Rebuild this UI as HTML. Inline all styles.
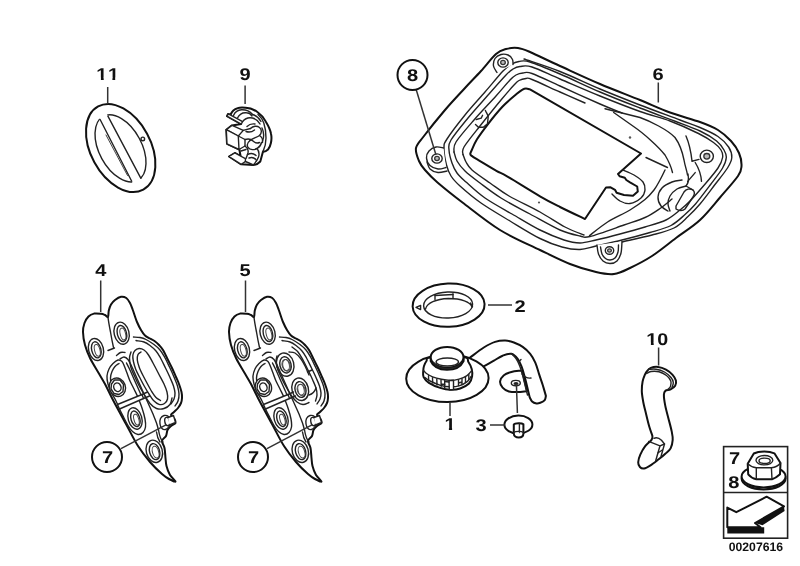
<!DOCTYPE html>
<html>
<head>
<meta charset="utf-8">
<title>Parts diagram 00207616</title>
<style>
html,body{margin:0;padding:0;background:#fff;}
body{width:800px;height:566px;overflow:hidden;font-family:"Liberation Sans",sans-serif;}
svg{display:block;}
.lbl{font-family:"Liberation Sans",sans-serif;font-weight:bold;font-size:17px;fill:#111;}
text{text-rendering:geometricPrecision;}
svg{filter:grayscale(1);}
.o{fill:none;stroke:#111;stroke-width:2;stroke-linejoin:round;stroke-linecap:round;}
.ow{fill:#fff;stroke:#111;stroke-width:2;stroke-linejoin:round;stroke-linecap:round;}
.m{fill:none;stroke:#222;stroke-width:1.4;stroke-linejoin:round;stroke-linecap:round;}
.mw{fill:#fff;stroke:#222;stroke-width:1.4;stroke-linejoin:round;stroke-linecap:round;}
.t{fill:none;stroke:#444;stroke-width:1;stroke-linejoin:round;stroke-linecap:round;}
.tw{fill:#fff;stroke:#444;stroke-width:1;stroke-linejoin:round;stroke-linecap:round;}
.ld{fill:none;stroke:#333;stroke-width:1.5;}
</style>
</head>
<body>
<svg width="800" height="566" viewBox="0 0 800 566">
<rect x="0" y="0" width="800" height="566" fill="#ffffff"/>


<!-- ================= PART 11 : ring ================= -->
<g id="p11">
  <ellipse class="ow" cx="120.7" cy="148" rx="47.3" ry="30" transform="rotate(61.5 120.7 148)" stroke-width="2.5"/>
  <ellipse class="m" cx="120.5" cy="148.4" rx="36.3" ry="21.3" transform="rotate(61.5 120.5 148.4)" stroke-width="1.9"/>
  <polygon points="98.5,116.4 106.5,113.2 142.6,181.4 133.3,184.4" fill="#fff" stroke="none"/>
  <line class="m" x1="100.1" y1="119.5" x2="131.7" y2="181.3" stroke-width="1.9"/>
  <line class="m" x1="107.9" y1="116.2" x2="140.9" y2="178.3" stroke-width="1.9"/>
  <line class="t" x1="106" y1="135" x2="127.5" y2="175.5" stroke-width="0.8"/>
  <circle class="m" cx="142.8" cy="138.9" r="1.8" stroke-width="1.1"/>
</g>

<!-- ================= PART 9 : clip ================= -->
<g id="p9">
  <!-- back disc crescent -->
  <path class="ow" stroke-width="1.9" d="M230.6,114.8 C232,111 235,108.8 237.6,108.2 C240,107.2 243,107.3 245.4,107.7 C250,107.6 254,109.5 257.4,112 C261,114.5 264,118 266,121.9 C268.5,126 270.3,130 270.9,133.2 C271.8,137 271.6,140 270.9,143 C270.3,146 269.3,148 268,149.5 C266.5,151 265,151.8 263,151.6 L260.3,161.5 C258,164 256,165 253.2,165 L245.4,164.6 L241.2,164.3 L229,156.5 L234.8,153 L240.6,156.2 L239.4,149.7 L227,143.8 L226.3,129.7 L232,125.4 L241.2,124 L227,116.2 L228,114 Z"/>
  <path class="m" stroke-width="1.5" d="M258,114.5 C261,117 262.8,120 263.8,123 C265.5,128 266,133 266,138 C266,143 265,147.5 263,151.6"/>
  <!-- top strip -->
  <path class="mw" stroke-width="1.7" d="M227,116.2 L228.4,113.8 L242.6,121.6 L241.2,124 Z"/>
  <!-- arcs behind strip -->
  <path class="m" stroke-width="1.45" d="M233.5,115.5 C235,112 238,110 241.5,109.8 C246,109.6 250,111.5 252.5,114.5"/>
  <path class="m" stroke-width="1.45" d="M237.5,118 C239.5,114 243,112.4 246.5,112.8 C249,113 251,114.5 252,116"/>
  <path class="m" stroke-width="1.45" d="M242.6,121.6 C245,118.5 249,117.2 252.5,118 C256,119 258.5,121 260,124"/>
  <path class="m" stroke-width="1.45" d="M252.5,114.5 C256,115.5 259,118 261,121.5"/>
  <!-- block -->
  <path class="mw" stroke-width="1.6" d="M226.3,129.7 L232,125.4 L243.3,130.4 L238.3,136 Z"/>
  <path class="mw" stroke-width="1.6" d="M226.3,129.7 L238.3,136 L239,149.5 L227,143.8 Z"/>
  <path class="m" stroke-width="1.3" d="M243.3,130.4 L250.5,128.5 M238.3,136 L245,139.5 L245,146 L239,149.5"/>
  <!-- inner squiggles -->
  <path class="m" stroke-width="1.45" d="M250.5,128.500 C253,126 257,125.500 259.500,127.500 C262,129.500 262,133 259.500,135.500 C257,137.500 253,138 250,140.500"/>
  <path class="m" stroke-width="1.45" d="M245,139.500 C248,138.500 251,139 253,141 C255,143 257,143.500 259.500,142.500"/>
  <path class="m" stroke-width="1.45" d="M250,140.500 C247.500,142.500 246.500,145 248,147.500 C250,150 254,150 257,148.500 C259.500,147 261,145 261.500,142.500"/>
  <path class="m" stroke-width="1.45" d="M245,146 C248,148.500 249,151.500 247.500,154.500 L246,158.600"/>
  <path class="m" stroke-width="1.45" d="M257,148.500 C259,151 259.500,154 258.500,157 C257.500,160 255.500,162.500 253.200,165"/>
  <path class="m" stroke-width="1.45" d="M247.500,154.500 C250.500,153 254,153.500 256,155.500"/>
  <path class="m" stroke-width="1.45" d="M259.500,135.500 C262,137 263,139.500 262.500,142.500"/>
  <path class="m" stroke-width="1.3" d="M246,131.500 C249,132.500 252,132 254.500,130 M247,126.500 C249,124.500 252,123.500 255,124 M262,128 C264,132 264,137 262.500,141 M249,158 C252,157 255,158 256.500,160.500 M241,151 L246,149.500"/>
  <!-- bottom tab -->
  <path class="mw" stroke-width="1.7" d="M229,156.5 L234.8,153 L245.4,158.6 L245.4,161.5 L241.2,164.3 Z"/>
  <path class="m" stroke-width="1.45" d="M245.4,161.500 L249,163 L253.200,165"/>
</g>


<!-- ================= PART 6 : panel ================= -->
<g id="p6">
<path class="ow" stroke-width="2.2" d="M416.0,148.0 C416.8,143.8 419.2,142.3 424.0,136.0 C428.8,129.7 438.2,118.0 445.0,110.0 C451.8,102.0 459.0,94.5 465.0,88.0 C471.0,81.5 475.8,76.7 481.0,71.0 C486.2,65.3 491.8,57.7 496.0,54.0 C500.2,50.3 502.3,50.0 506.0,49.0 C509.7,48.0 514.0,47.5 518.0,48.0 C522.0,48.5 523.0,49.0 530.0,52.0 C537.0,55.0 548.3,60.7 560.0,66.0 C571.7,71.3 586.7,78.3 600.0,84.0 C613.3,89.7 628.3,95.2 640.0,100.0 C651.7,104.8 660.0,108.8 670.0,112.5 C680.0,116.2 692.0,119.1 700.0,122.0 C708.0,124.9 712.8,126.8 718.0,130.0 C723.2,133.2 727.5,137.2 731.0,141.0 C734.5,144.8 737.2,148.8 739.0,153.0 C740.8,157.2 741.7,162.2 741.5,166.0 C741.3,169.8 741.6,170.8 738.0,176.0 C734.4,181.2 726.3,190.2 720.0,197.5 C713.7,204.8 707.3,213.2 700.0,220.0 C692.7,226.8 684.0,232.0 676.0,238.0 C668.0,244.0 659.7,251.0 652.0,256.0 C644.3,261.0 636.3,265.0 630.0,268.0 C623.7,271.0 619.7,273.3 614.0,274.0 C608.3,274.7 603.3,273.7 596.0,272.0 C588.7,270.3 579.3,267.7 570.0,264.0 C560.7,260.3 551.7,255.7 540.0,250.0 C528.3,244.3 512.9,237.9 500.0,230.0 C487.1,222.1 472.9,210.4 462.5,202.5 C452.1,194.6 443.8,187.9 437.5,182.5 C431.2,177.1 428.1,173.6 425.0,170.0 C421.9,166.4 420.5,164.7 419.0,161.0 C417.5,157.3 415.2,152.2 416.0,148.0 Z"/>
<path class="m" stroke-width="1.1" d="M524.0,59.0 C530.0,61.1 547.3,66.5 560.0,71.5 C572.7,76.5 586.7,83.4 600.0,89.0 C613.3,94.6 626.7,99.8 640.0,105.0 C653.3,110.2 670.0,116.2 680.0,120.0 C690.0,123.8 693.7,124.8 700.0,127.5 C706.3,130.2 713.2,133.2 718.0,136.5 C722.8,139.8 726.3,143.5 728.6,147.0 C730.9,150.5 732.0,154.0 731.8,157.5 C731.6,161.0 730.3,163.5 727.5,168.0 C724.7,172.5 719.6,178.5 715.0,184.5 C710.4,190.5 704.5,198.7 700.0,204.0 C695.5,209.3 692.3,212.5 688.0,216.5 C683.7,220.5 680.0,224.9 674.0,228.0 C668.0,231.1 660.7,232.7 652.0,235.0 C643.3,237.3 627.0,240.8 622.0,242.0"/>
<path class="m" stroke-width="2" d="M444.0,148.0 C444.1,143.7 443.5,144.5 447.0,139.0 C450.5,133.5 458.7,122.8 465.0,115.0 C471.3,107.2 478.7,99.3 485.0,92.0 C491.3,84.7 498.7,75.6 503.0,71.0 C507.3,66.4 508.3,66.1 511.0,64.5 C513.7,62.9 515.8,61.9 519.0,61.5 C522.2,61.1 523.2,59.9 530.0,62.0 C536.8,64.1 548.3,69.0 560.0,74.0 C571.7,79.0 586.7,86.3 600.0,92.0 C613.3,97.7 627.6,103.2 640.0,108.0 C652.4,112.8 664.5,117.2 674.5,121.0 C684.5,124.8 693.0,127.7 700.0,131.0 C707.0,134.3 712.6,137.8 716.6,141.0 C720.6,144.2 722.4,147.2 724.0,150.0 C725.6,152.8 726.5,154.5 726.3,157.5 C726.1,160.5 725.2,163.5 722.6,168.0 C720.0,172.5 715.1,178.5 710.6,184.5 C706.1,190.5 699.8,199.0 695.5,204.0 C691.2,209.0 689.1,210.9 685.0,214.5 C680.9,218.1 676.8,222.5 671.0,225.5 C665.2,228.5 658.2,230.1 650.0,232.5 C641.8,234.9 631.0,237.8 622.0,240.0 C613.0,242.2 603.0,244.4 596.0,246.0 C589.0,247.6 585.7,249.3 580.0,249.5 C574.3,249.7 568.7,248.8 562.0,247.0 C555.3,245.2 548.7,242.8 540.0,238.5 C531.3,234.2 519.8,226.9 510.0,221.0 C500.2,215.1 489.3,208.8 481.0,203.0 C472.7,197.2 465.0,190.5 460.0,186.0 C455.0,181.5 453.2,179.5 451.0,176.0 C448.8,172.5 447.7,169.7 446.5,165.0 C445.3,160.3 443.9,152.3 444.0,148.0 Z"/>
<path class="m" stroke-width="1.2" d="M449.0,150.0 C448.8,146.2 447.8,145.3 451.0,140.0 C454.2,134.7 461.7,125.7 468.0,118.0 C474.3,110.3 482.7,101.2 489.0,94.0 C495.3,86.8 502.0,79.2 506.0,75.0 C510.0,70.8 510.7,70.4 513.0,69.0 C515.3,67.6 516.8,66.8 520.0,66.5 C523.2,66.2 525.3,64.9 532.0,67.0 C538.7,69.1 548.7,74.2 560.0,79.0 C571.3,83.8 586.7,90.6 600.0,96.0 C613.3,101.4 628.3,107.3 640.0,111.5 C651.7,115.7 660.2,117.3 670.0,121.0 C679.8,124.7 691.2,129.9 698.5,133.5 C705.8,137.1 709.8,139.8 713.5,142.5 C717.2,145.2 719.5,147.5 721.0,150.0 C722.5,152.5 723.1,154.5 722.6,157.5 C722.1,160.5 720.8,163.8 718.0,168.0 C715.2,172.2 710.7,177.5 706.0,183.0 C701.3,188.5 694.3,196.5 690.0,201.0 C685.7,205.5 684.0,206.8 680.0,210.0 C676.0,213.2 671.8,217.2 666.0,220.0 C660.2,222.8 652.7,224.7 645.0,227.0 C637.3,229.3 628.2,231.8 620.0,234.0 C611.8,236.2 602.7,238.5 596.0,240.0 C589.3,241.5 585.3,243.0 580.0,243.0 C574.7,243.0 570.7,242.2 564.0,240.0 C557.3,237.8 548.7,234.3 540.0,230.0 C531.3,225.7 521.2,219.3 512.0,214.0 C502.8,208.7 492.7,203.3 485.0,198.0 C477.3,192.7 470.7,186.2 466.0,182.0 C461.3,177.8 459.3,176.2 457.0,173.0 C454.7,169.8 453.3,166.8 452.0,163.0 C450.7,159.2 449.2,153.8 449.0,150.0 Z"/>
<path class="m" stroke-width="1.1" d="M454.0,152.0 C454.3,150.3 452.7,147.3 456.0,142.0 C459.3,136.7 467.3,127.7 474.0,120.0 C480.7,112.3 490.0,102.7 496.0,96.0 C502.0,89.3 506.7,83.5 510.0,80.0 C513.3,76.5 513.8,76.2 516.0,75.0 C518.2,73.8 520.3,73.2 523.0,73.0 C525.7,72.8 525.8,71.3 532.0,73.5 C538.2,75.7 548.7,80.9 560.0,86.0 C571.3,91.1 589.7,99.5 600.0,104.0 C610.3,108.5 618.3,111.5 622.0,113.0"/>
<path class="m" stroke-width="1.1" d="M463.0,154.5 C463.2,153.2 461.2,151.8 464.0,147.0 C466.8,142.2 473.8,133.8 480.0,126.0 C486.2,118.2 495.3,106.8 501.0,100.0 C506.7,93.2 511.0,88.2 514.0,85.0 C517.0,81.8 517.0,81.6 519.0,80.5 C521.0,79.4 523.8,78.7 526.0,78.5 C528.2,78.3 526.3,77.2 532.0,79.5 C537.7,81.8 551.2,88.1 560.0,92.0 C568.8,95.9 580.8,101.2 585.0,103.0"/>
<path class="m" stroke-width="1.1" d="M454.0,152.0 C454.5,153.5 455.2,157.8 457.0,161.0 C458.8,164.2 461.2,167.3 465.0,171.0 C468.8,174.7 474.0,178.5 480.0,183.0 C486.0,187.5 492.7,192.8 501.0,198.0 C509.3,203.2 520.2,208.7 530.0,214.0 C539.8,219.3 551.7,226.3 560.0,230.0 C568.3,233.7 575.0,234.9 580.0,236.0 C585.0,237.1 582.7,238.3 590.0,236.5 C597.3,234.7 614.8,228.2 624.0,225.0 C633.2,221.8 639.0,220.2 645.0,217.5 C651.0,214.8 655.5,211.6 660.0,208.5 C664.5,205.4 670.0,200.6 672.0,199.0"/>
<path class="m" stroke-width="1.1" d="M463.0,154.5 C463.5,155.8 464.5,159.4 466.0,162.0 C467.5,164.6 468.0,166.5 472.0,170.0 C476.0,173.5 483.8,178.7 490.0,183.0 C496.2,187.3 500.7,191.2 509.0,196.0 C517.3,200.8 530.7,206.8 540.0,212.0 C549.3,217.2 557.7,223.2 565.0,227.0 C572.3,230.8 580.8,233.7 584.0,235.0"/>
<path class="ow" stroke-width="2.1" d="M530,89.400 L641.0,153.5 L618.0,174.0 L619.6,176.3 L624.8,177.8 L626.3,180.0 L630.0,182.3 L637.2,186.5 L637.8,191.5 L633.0,195.8 L624.0,195.0 L616.6,192.8 L615.0,189.8 L610.6,187.3 L606.0,187.5 L585.0,219.0 L585.0,219.0 C580.8,217.0 567.5,210.8 560.0,207.0 C552.5,203.2 548.8,201.4 540.0,196.3 C531.2,191.2 514.8,180.8 507.5,176.6 C500.2,172.3 501.3,173.6 496.4,170.8 C491.5,168.0 482.2,162.3 478.0,159.8 C473.8,157.3 472.6,156.6 471.3,155.6 C470.0,154.6 470.2,154.4 470.3,153.6 C470.4,152.8 470.5,152.9 471.6,150.5 C472.7,148.1 474.2,143.8 477.0,139.3 C479.8,134.9 484.0,129.2 488.2,123.8 C492.4,118.4 497.7,111.8 502.4,106.8 C507.1,101.8 513.1,97.0 516.5,94.1 C519.9,91.2 520.9,90.5 522.5,89.6 C524.1,88.6 524.8,88.4 526.0,88.4 C527.2,88.4 529.3,89.2 530.0,89.4 Z"/>
<path class="m" stroke-width="1.1" d="M623.0,170.0 C624.8,170.8 630.7,173.0 634.0,175.0 C637.3,177.0 641.2,179.5 643.0,182.0 C644.8,184.5 645.3,187.3 645.0,190.0 C644.7,192.7 643.5,195.8 641.0,198.0 C638.5,200.2 633.5,203.0 630.0,203.5 C626.5,204.0 623.0,202.6 620.0,201.0 C617.0,199.4 613.3,195.2 612.0,194.0"/>
<path class="m" stroke-width="1" d="M605,108.700 L640,117.500 C650,121 668,130 675,137.500 C679,143 682,150 684,160 C685,166 687,171 687.500,175 M613.700,112.500 L635,127.500 C643,133 658,146 665,155 C668,160 671,166 672.500,172.500 M646,157.500 L667.500,167.500"/>
<path class="m" stroke-width="1" d="M589.5,235.6 C592.5,233.3 600.9,226.3 607.6,222.0 C614.4,217.7 623.8,213.8 630.0,210.0 C636.2,206.2 641.0,202.8 645.0,199.5 C649.0,196.2 651.5,193.2 654.0,190.0 C656.5,186.8 658.2,183.3 660.0,180.0 C661.8,176.7 664.2,171.7 665.0,170.0"/>
<path class="m" stroke-width="1" d="M686,136 C689,143 691,152 692,161 M692,161.300 L699,159.400 M695.200,162.500 C698,167 701,174 701.500,181.400 M695.200,172.600 L687.700,181.400"/>
<path class="m" stroke-width="1.2" d="M682.0,180.0 C680.3,180.3 675.3,180.7 672.0,182.0 C668.7,183.3 664.3,185.5 662.0,188.0 C659.7,190.5 658.2,194.0 658.0,197.0 C657.8,200.0 659.3,203.7 661.0,206.0 C662.7,208.3 666.8,210.2 668.0,211.0"/>
<path class="m" stroke-width="1.2" d="M686.0,186.0 C684.5,186.5 679.7,187.3 677.0,189.0 C674.3,190.7 671.5,193.5 670.0,196.0 C668.5,198.5 668.0,201.5 668.0,204.0 C668.0,206.5 669.7,209.8 670.0,211.0"/>
<path class="m" stroke-width="1.2" d="M676,206 L684,192 C686,189 690,188 693,190 C695,192 695,194 693,197 L685,209 C683,211 679,211 676,209 Z"/>
<path class="m" stroke-width="1.2" d="M688,174 C689,180 688,184 686,186 L693,190"/>
<path class="mw" stroke-width="1.4" d="M497.0,72.5 C496.4,71.4 493.8,68.3 493.5,66.0 C493.2,63.7 493.8,60.4 495.0,58.5 C496.2,56.6 498.8,55.1 501.0,54.5 C503.2,53.9 506.1,54.2 508.0,55.0 C509.9,55.8 511.7,57.9 512.5,59.5 C513.3,61.1 512.9,63.7 513.0,64.5"/>
<ellipse class="mw" stroke-width="1.3" cx="503.0" cy="62.5" rx="5.2" ry="4.6"/><ellipse cx="503.0" cy="62.5" rx="2.3" ry="2.1" fill="#bbb" stroke="#333" stroke-width="1.3"/>
<path class="mw" stroke-width="1.4" d="M443.5,148.0 C442.2,147.8 438.4,146.5 436.0,147.0 C433.6,147.5 430.6,149.2 429.0,151.0 C427.4,152.8 426.3,155.6 426.5,158.0 C426.7,160.4 428.1,163.7 430.0,165.5 C431.9,167.3 435.3,168.7 438.0,169.0 C440.7,169.3 444.7,167.8 446.0,167.5"/>
<path class="m" stroke-width="1" d="M427.0,162.0 C427.5,163.2 428.2,167.2 430.0,169.0 C431.8,170.8 435.2,172.2 438.0,172.5 C440.8,172.8 445.5,171.2 447.0,171.0"/>
<ellipse class="mw" stroke-width="1.3" cx="437.0" cy="158.5" rx="5.2" ry="4.6"/><ellipse cx="437.0" cy="158.5" rx="2.3" ry="2.1" fill="#bbb" stroke="#333" stroke-width="1.3"/>
<ellipse class="mw" stroke-width="1.3" cx="706.8" cy="156.3" rx="6.6" ry="6.2"/><ellipse cx="706.8" cy="156.3" rx="3.0" ry="2.8" fill="#bbb" stroke="#333" stroke-width="1.3"/>
<path class="mw" stroke-width="1.4" d="M597.0,245.0 C597.2,246.5 597.5,251.3 598.5,254.0 C599.5,256.7 601.1,259.4 603.0,261.0 C604.9,262.6 607.7,263.5 610.0,263.5 C612.3,263.5 615.2,262.8 617.0,261.0 C618.8,259.2 620.2,256.2 621.0,253.0 C621.8,249.8 621.8,243.4 622.0,241.5"/>
<path class="m" stroke-width="1" d="M600.5,247.0 C600.8,248.2 601.2,252.1 602.0,254.0 C602.8,255.9 604.2,257.5 605.5,258.5 C606.8,259.5 608.4,260.1 610.0,260.0 C611.6,259.9 613.7,259.3 615.0,258.0 C616.3,256.7 617.4,254.2 618.0,252.0 C618.6,249.8 618.4,246.2 618.5,245.0"/>
<ellipse class="mw" stroke-width="1.3" cx="609.5" cy="250.5" rx="4.2" ry="3.8"/><ellipse cx="609.5" cy="250.5" rx="1.9" ry="1.7" fill="#bbb" stroke="#333" stroke-width="1.3"/>
<path class="m" stroke-width="1.4" d="M485.400,110.400 C486.500,113 488,115 488.200,116.700 L487.500,123.800 L483.300,127.300 L478.400,127.300 L475.500,124.500 M476.200,119.500 L481.200,118.100 L482.600,115.300"/>
<circle cx="630" cy="137.5" r="1.2" fill="#555"/><circle cx="539" cy="202.5" r="1.1" fill="#555"/>
</g>
<!-- ================= PARTS 4 & 5 : brackets ================= -->
<g id="p4" transform="translate(0,0)">
<path class="ow" stroke-width="2.1" d="M108.0,317.0 C108.6,316.2 108.3,312.6 108.8,310.5 C109.3,308.4 110.0,306.2 111.0,304.5 C112.0,302.8 113.3,301.3 115.0,300.0 C116.7,298.7 119.1,297.1 121.0,296.8 C122.9,296.5 124.8,297.0 126.3,298.0 C127.8,299.0 128.9,301.0 130.0,303.0 C131.1,305.0 131.6,306.8 132.8,310.0 C134.0,313.2 135.6,318.7 137.0,322.0 C138.4,325.3 139.7,327.8 141.0,330.0 C142.3,332.2 143.5,334.1 145.0,335.5 C146.5,336.9 148.4,337.6 150.0,338.5 C151.6,339.4 153.0,339.9 154.5,341.0 C156.0,342.1 157.6,343.5 159.0,345.0 C160.4,346.5 161.5,347.5 163.0,350.0 C164.5,352.5 166.5,357.0 168.0,360.0 C169.5,363.0 170.7,365.2 172.0,368.0 C173.3,370.8 174.8,374.3 176.0,377.0 C177.2,379.7 178.1,381.5 179.0,384.0 C179.9,386.5 181.0,389.7 181.5,392.0 C182.0,394.3 182.1,396.2 182.0,398.0 C181.9,399.8 181.7,401.3 181.0,403.0 C180.3,404.7 179.2,406.5 178.0,408.0 C176.8,409.5 175.2,410.8 174.0,412.0 C172.8,413.2 170.9,413.8 171.0,415.0 C171.1,416.2 173.8,417.7 174.5,419.0 C175.2,420.3 176.1,421.8 175.5,423.0 C174.9,424.2 172.3,424.8 171.0,426.0 C169.7,427.2 168.3,428.3 167.5,430.0 C166.7,431.7 166.9,434.2 166.0,436.0 C165.1,437.8 162.2,439.0 162.0,441.0 C161.8,443.0 163.9,445.2 164.5,448.0 C165.1,450.8 165.2,455.0 165.5,458.0 C165.8,461.0 165.8,463.2 166.5,466.0 C167.2,468.8 168.5,472.4 170.0,475.0 C171.5,477.6 175.7,480.8 175.5,481.5 C175.3,482.2 171.2,480.2 169.0,479.0 C166.8,477.8 165.2,476.8 162.0,474.0 C158.8,471.2 154.0,466.7 150.0,462.0 C146.0,457.3 142.0,452.3 138.0,446.0 C134.0,439.7 130.2,431.7 126.0,424.0 C121.8,416.3 116.5,406.7 113.0,400.0 C109.5,393.3 107.5,388.7 105.0,384.0 C102.5,379.3 100.5,376.3 98.0,372.0 C95.5,367.7 92.2,362.5 90.0,358.0 C87.8,353.5 86.2,349.3 85.0,345.0 C83.8,340.7 83.1,335.7 83.0,332.0 C82.9,328.3 83.6,325.6 84.5,323.0 C85.4,320.4 86.9,318.1 88.5,316.5 C90.1,314.9 91.9,314.1 94.0,313.6 C96.1,313.2 99.2,313.6 101.0,313.8 C102.8,314.0 103.8,314.5 105.0,315.0 C106.2,315.5 107.4,317.8 108.0,317.0 Z"/>
<path class="m" stroke-width="1.6" d="M108,317 C108.500,322 109.500,327 110.500,332 C111.500,338 112.500,343 113.500,347.500 M108,350.500 L114.500,348"/>
<path class="m" stroke-width="1.5" d="M133.5,337.0 C134.6,337.1 137.9,337.1 140.0,337.5 C142.1,337.9 143.7,338.3 146.0,339.5 C148.3,340.7 151.7,342.8 154.0,344.5 C156.3,346.2 158.2,347.9 160.0,350.0 C161.8,352.1 162.9,354.2 164.5,357.0 C166.1,359.8 167.9,363.7 169.5,367.0 C171.1,370.3 172.7,373.8 174.0,377.0 C175.3,380.2 176.7,383.2 177.5,386.0 C178.3,388.8 178.9,391.5 179.0,394.0 C179.1,396.5 178.7,399.0 178.0,401.0 C177.3,403.0 175.5,405.2 175.0,406.0"/>
<path class="m" stroke-width="1.1" d="M136.0,340.5 C137.3,340.8 141.7,341.2 144.0,342.0 C146.3,342.8 148.0,344.0 150.0,345.5 C152.0,347.0 154.2,348.9 156.0,351.0 C157.8,353.1 158.9,355.2 160.5,358.0 C162.1,360.8 163.9,364.8 165.5,368.0 C167.1,371.2 168.7,374.5 170.0,377.5 C171.3,380.5 172.7,383.4 173.5,386.0 C174.3,388.6 174.9,390.8 175.0,393.0 C175.1,395.2 174.7,397.2 174.0,399.0 C173.3,400.8 171.5,403.2 171.0,404.0"/>
<ellipse class="mw" stroke-width="2.0" cx="96.0" cy="349.5" rx="7.4" ry="11.2" transform="rotate(-14.0 96.0 349.5)" /><ellipse class="m" stroke-width="2.0" cx="96.3" cy="349.8" rx="4.6" ry="8.2" transform="rotate(-14.0 96.3 349.8)" /><ellipse class="t" stroke-width="0.7" cx="97.3" cy="350.3" rx="2.7" ry="6.0" transform="rotate(-14.0 97.3 350.3)" />
<ellipse class="mw" stroke-width="2.0" cx="121.6" cy="333.2" rx="7.4" ry="11.2" transform="rotate(-14.0 121.6 333.2)" /><ellipse class="m" stroke-width="2.0" cx="121.9" cy="333.5" rx="4.6" ry="8.2" transform="rotate(-14.0 121.9 333.5)" /><ellipse class="t" stroke-width="0.7" cx="122.9" cy="334.0" rx="2.7" ry="6.0" transform="rotate(-14.0 122.9 334.0)" />
<ellipse class="mw" stroke-width="2.0" cx="154.3" cy="451.3" rx="8.0" ry="11.4" transform="rotate(-16.0 154.3 451.3)" /><ellipse class="m" stroke-width="2.0" cx="154.6" cy="451.6" rx="5.0" ry="8.2" transform="rotate(-16.0 154.6 451.6)" /><ellipse class="t" stroke-width="0.7" cx="155.6" cy="452.1" rx="3.1" ry="6.0" transform="rotate(-16.0 155.6 452.1)" />
<path class="mw" stroke-width="1.9" d="M139.0,348.5 C137.5,348.6 136.0,349.4 135.0,350.5 C134.0,351.6 133.2,353.2 132.9,355.0 C132.6,356.8 132.9,358.7 133.3,361.0 C133.8,363.3 134.6,366.3 135.6,369.0 C136.6,371.7 138.1,374.2 139.5,377.0 C140.9,379.8 142.6,383.2 144.2,386.0 C145.8,388.8 147.4,391.6 149.0,394.0 C150.6,396.4 151.8,398.8 153.5,400.5 C155.2,402.2 157.2,403.8 159.0,404.3 C160.8,404.8 163.1,404.4 164.5,403.5 C165.9,402.6 167.1,400.9 167.5,399.0 C167.9,397.1 167.6,394.5 167.0,392.0 C166.4,389.5 165.4,387.1 164.0,384.0 C162.6,380.9 160.3,377.0 158.5,373.5 C156.7,370.0 154.7,366.1 153.0,363.0 C151.3,359.9 150.0,357.2 148.5,355.0 C147.0,352.8 145.6,351.1 144.0,350.0 C142.4,348.9 140.5,348.4 139.0,348.5 Z"/>
<path class="m" stroke-width="1" d="M141.0,352.0 C140.5,352.4 138.6,353.2 138.0,354.5 C137.4,355.8 137.1,357.8 137.3,360.0 C137.5,362.2 138.4,364.9 139.3,367.5 C140.2,370.1 141.6,372.8 143.0,375.5 C144.4,378.2 146.0,381.2 147.5,384.0 C149.0,386.8 150.6,389.8 152.0,392.0 C153.4,394.2 154.6,396.1 156.0,397.5 C157.4,398.9 159.8,400.0 160.5,400.5"/>
<path class="m" stroke-width="1.1" d="M131.0,352.0 C130.8,353.0 129.5,355.5 129.5,358.0 C129.5,360.5 130.0,364.0 130.8,367.0 C131.6,370.0 133.1,372.9 134.5,376.0 C135.9,379.1 137.3,382.3 139.0,385.5 C140.7,388.7 142.7,392.0 144.5,395.0 C146.3,398.0 148.0,401.2 150.0,403.5 C152.0,405.8 154.2,407.7 156.5,408.5 C158.8,409.3 161.8,409.2 164.0,408.5 C166.2,407.8 168.7,406.2 170.0,404.5 C171.3,402.8 171.7,399.1 172.0,398.0"/>
<path class="mw" stroke-width="2.2" d="M118.0,360.0 C116.5,360.3 114.5,362.0 113.0,363.5 C111.5,365.0 110.0,366.9 109.0,369.0 C108.0,371.1 107.2,373.5 107.0,376.0 C106.8,378.5 107.3,381.3 108.0,384.0 C108.7,386.7 109.7,389.2 111.0,392.0 C112.3,394.8 114.5,398.0 116.0,401.0 C117.5,404.0 118.7,407.2 120.0,410.0 C121.3,412.8 122.7,415.4 124.0,418.0 C125.3,420.6 126.6,423.2 128.0,425.5 C129.4,427.8 130.8,430.0 132.5,431.5 C134.2,433.0 136.2,434.3 138.0,434.5 C139.8,434.7 141.8,433.8 143.0,432.5 C144.2,431.2 145.2,429.2 145.5,427.0 C145.8,424.8 145.6,422.2 145.0,419.0 C144.4,415.8 143.2,411.6 142.0,408.0 C140.8,404.4 139.3,400.7 138.0,397.5 C136.7,394.3 135.3,391.8 134.0,389.0 C132.7,386.2 131.2,383.7 130.0,381.0 C128.8,378.3 127.9,375.4 127.0,373.0 C126.1,370.6 125.3,368.4 124.5,366.5 C123.7,364.6 123.1,362.6 122.0,361.5 C120.9,360.4 119.5,359.7 118.0,360.0 Z"/>
<path class="m" stroke-width="1" d="M119.0,363.5 C118.3,364.0 116.2,365.2 115.0,366.5 C113.8,367.8 112.8,369.6 112.0,371.5 C111.2,373.4 110.6,375.8 110.5,378.0 C110.4,380.2 110.8,382.5 111.5,385.0 C112.2,387.5 114.0,391.7 114.5,393.0"/>
<path class="m" stroke-width="1.4" d="M120.0,359.0 C120.7,358.7 122.7,356.9 124.0,357.0 C125.3,357.1 126.8,358.0 128.0,359.5 C129.2,361.0 130.2,363.4 131.5,366.0 C132.8,368.6 134.1,371.8 135.5,375.0 C136.9,378.2 138.6,381.8 140.0,385.0 C141.4,388.2 142.6,390.8 144.0,394.0 C145.4,397.2 147.0,400.7 148.5,404.0 C150.0,407.3 151.7,410.8 153.0,414.0 C154.3,417.2 155.6,420.3 156.5,423.0 C157.4,425.7 158.2,428.8 158.5,430.0"/>
<path class="m" stroke-width="1" d="M126.5,363.0 C127.0,364.0 128.3,366.5 129.5,369.0 C130.7,371.5 132.1,374.8 133.5,378.0 C134.9,381.2 136.6,384.8 138.0,388.0 C139.4,391.2 141.3,395.5 142.0,397.0"/>
<path class="m" stroke-width="1" d="M116.5,355.5 C117.2,355.0 119.1,353.0 120.5,352.5 C121.9,352.0 124.2,352.5 125.0,352.5"/>
<path class="mw" stroke-width="1.2" d="M117.500,404.500 L142,394.500 L143.500,398.500 L119.500,409 Z"/>
<path class="m" stroke-width="1.1" d="M142,394.500 L147.500,392 M143.500,398.500 L149.500,396"/>
<ellipse class="mw" stroke-width="1.8" cx="117.4" cy="387.2" rx="8.0" ry="9.4" transform="rotate(-20.0 117.4 387.2)" />
<path class="mw" stroke-width="1.3" d="M111.500,384 L114.500,380 L120,380 L123.500,384.500 L123,391.500 L119,394.500 L114,393.500 L111,389 Z"/>
<ellipse class="m" stroke-width="1.2" cx="117.4" cy="387.2" rx="3.6" ry="4.4" transform="rotate(-20.0 117.4 387.2)" />
<ellipse class="mw" stroke-width="2.2" cx="135.0" cy="418.5" rx="6.8" ry="11.0" transform="rotate(-16.0 135.0 418.5)" />
<ellipse class="m" stroke-width="2.0" cx="135.4" cy="418.8" rx="4.4" ry="8.0" transform="rotate(-16.0 135.4 418.8)" />
<ellipse class="t" stroke-width="0.7" cx="136.4" cy="419.6" rx="2.4" ry="5.6" transform="rotate(-16.0 136.4 419.6)" />
<path class="mw" stroke-width="1.8" d="M160.0,424.0 C159.8,422.3 159.8,419.9 160.5,418.5 C161.2,417.1 162.7,415.8 164.0,415.5 C165.3,415.2 167.4,415.6 168.5,416.5 C169.6,417.4 170.4,419.3 170.5,421.0 C170.6,422.7 169.8,425.1 169.0,426.5 C168.2,427.9 166.7,429.2 165.5,429.5 C164.3,429.8 162.9,429.4 162.0,428.5 C161.1,427.6 160.2,425.7 160.0,424.0 Z"/>
<ellipse class="mw" stroke-width="1.6" cx="167.2" cy="421.5" rx="2.4" ry="4.2" transform="rotate(-10.0 167.2 421.5)" />
<path class="mw" stroke-width="1.7" d="M168,417.500 L173.500,415.500 L175.500,422.500 L169.500,425"/>
<path class="m" stroke-width="1.1" d="M158.500,430 C159.500,436 161,440 163,442 M160,442 C158,439 157,436 156.500,432"/>
</g>
<line class="ld" x1="121.0" y1="448.6" x2="166.0" y2="424.8" stroke-width="1.1"/>
<circle class="ow" cx="107.0" cy="457" r="15"/>
<g transform="translate(107.5,463.4) scale(1.18,1)"><text class="lbl" text-anchor="middle">7</text></g>
<g id="p5" transform="translate(146,0)">
<path class="ow" stroke-width="2.1" d="M108.0,317.0 C108.6,316.2 108.3,312.6 108.8,310.5 C109.3,308.4 110.0,306.2 111.0,304.5 C112.0,302.8 113.3,301.3 115.0,300.0 C116.7,298.7 119.1,297.1 121.0,296.8 C122.9,296.5 124.8,297.0 126.3,298.0 C127.8,299.0 128.9,301.0 130.0,303.0 C131.1,305.0 131.6,306.8 132.8,310.0 C134.0,313.2 135.6,318.7 137.0,322.0 C138.4,325.3 139.7,327.8 141.0,330.0 C142.3,332.2 143.5,334.1 145.0,335.5 C146.5,336.9 148.4,337.6 150.0,338.5 C151.6,339.4 153.0,339.9 154.5,341.0 C156.0,342.1 157.6,343.5 159.0,345.0 C160.4,346.5 161.5,347.5 163.0,350.0 C164.5,352.5 166.5,357.0 168.0,360.0 C169.5,363.0 170.7,365.2 172.0,368.0 C173.3,370.8 174.8,374.3 176.0,377.0 C177.2,379.7 178.1,381.5 179.0,384.0 C179.9,386.5 181.0,389.7 181.5,392.0 C182.0,394.3 182.1,396.2 182.0,398.0 C181.9,399.8 181.7,401.3 181.0,403.0 C180.3,404.7 179.2,406.5 178.0,408.0 C176.8,409.5 175.2,410.8 174.0,412.0 C172.8,413.2 170.9,413.8 171.0,415.0 C171.1,416.2 173.8,417.7 174.5,419.0 C175.2,420.3 176.1,421.8 175.5,423.0 C174.9,424.2 172.3,424.8 171.0,426.0 C169.7,427.2 168.3,428.3 167.5,430.0 C166.7,431.7 166.9,434.2 166.0,436.0 C165.1,437.8 162.2,439.0 162.0,441.0 C161.8,443.0 163.9,445.2 164.5,448.0 C165.1,450.8 165.2,455.0 165.5,458.0 C165.8,461.0 165.8,463.2 166.5,466.0 C167.2,468.8 168.5,472.4 170.0,475.0 C171.5,477.6 175.7,480.8 175.5,481.5 C175.3,482.2 171.2,480.2 169.0,479.0 C166.8,477.8 165.2,476.8 162.0,474.0 C158.8,471.2 154.0,466.7 150.0,462.0 C146.0,457.3 142.0,452.3 138.0,446.0 C134.0,439.7 130.2,431.7 126.0,424.0 C121.8,416.3 116.5,406.7 113.0,400.0 C109.5,393.3 107.5,388.7 105.0,384.0 C102.5,379.3 100.5,376.3 98.0,372.0 C95.5,367.7 92.2,362.5 90.0,358.0 C87.8,353.5 86.2,349.3 85.0,345.0 C83.8,340.7 83.1,335.7 83.0,332.0 C82.9,328.3 83.6,325.6 84.5,323.0 C85.4,320.4 86.9,318.1 88.5,316.5 C90.1,314.9 91.9,314.1 94.0,313.6 C96.1,313.2 99.2,313.6 101.0,313.8 C102.8,314.0 103.8,314.5 105.0,315.0 C106.2,315.5 107.4,317.8 108.0,317.0 Z"/>
<path class="m" stroke-width="1.6" d="M108,317 C108.500,322 109.500,327 110.500,332 C111.500,338 112.500,343 113.500,347.500 M108,350.500 L114.500,348"/>
<path class="m" stroke-width="1.5" d="M133.5,337.0 C134.6,337.1 137.9,337.1 140.0,337.5 C142.1,337.9 143.7,338.3 146.0,339.5 C148.3,340.7 151.7,342.8 154.0,344.5 C156.3,346.2 158.2,347.9 160.0,350.0 C161.8,352.1 162.9,354.2 164.5,357.0 C166.1,359.8 167.9,363.7 169.5,367.0 C171.1,370.3 172.7,373.8 174.0,377.0 C175.3,380.2 176.7,383.2 177.5,386.0 C178.3,388.8 178.9,391.5 179.0,394.0 C179.1,396.5 178.7,399.0 178.0,401.0 C177.3,403.0 175.5,405.2 175.0,406.0"/>
<path class="m" stroke-width="1.1" d="M136.0,340.5 C137.3,340.8 141.7,341.2 144.0,342.0 C146.3,342.8 148.0,344.0 150.0,345.5 C152.0,347.0 154.2,348.9 156.0,351.0 C157.8,353.1 158.9,355.2 160.5,358.0 C162.1,360.8 163.9,364.8 165.5,368.0 C167.1,371.2 168.7,374.5 170.0,377.5 C171.3,380.5 172.7,383.4 173.5,386.0 C174.3,388.6 174.9,390.8 175.0,393.0 C175.1,395.2 174.7,397.2 174.0,399.0 C173.3,400.8 171.5,403.2 171.0,404.0"/>
<path class="m" stroke-width="1.1" d="M146.0,347.0 C147.0,347.8 150.2,349.8 152.0,352.0 C153.8,354.2 155.3,357.0 157.0,360.0 C158.7,363.0 160.4,366.8 162.0,370.0 C163.6,373.2 165.2,376.5 166.5,379.5 C167.8,382.5 169.2,385.4 170.0,388.0 C170.8,390.6 171.1,392.8 171.0,395.0 C170.9,397.2 169.8,400.0 169.5,401.0"/>
<ellipse class="mw" stroke-width="2.0" cx="96.0" cy="349.5" rx="7.4" ry="11.2" transform="rotate(-14.0 96.0 349.5)" /><ellipse class="m" stroke-width="2.0" cx="96.3" cy="349.8" rx="4.6" ry="8.2" transform="rotate(-14.0 96.3 349.8)" /><ellipse class="t" stroke-width="0.7" cx="97.3" cy="350.3" rx="2.7" ry="6.0" transform="rotate(-14.0 97.3 350.3)" />
<ellipse class="mw" stroke-width="2.0" cx="121.6" cy="333.2" rx="7.4" ry="11.2" transform="rotate(-14.0 121.6 333.2)" /><ellipse class="m" stroke-width="2.0" cx="121.9" cy="333.5" rx="4.6" ry="8.2" transform="rotate(-14.0 121.9 333.5)" /><ellipse class="t" stroke-width="0.7" cx="122.9" cy="334.0" rx="2.7" ry="6.0" transform="rotate(-14.0 122.9 334.0)" />
<ellipse class="mw" stroke-width="2.0" cx="154.3" cy="451.3" rx="8.0" ry="11.4" transform="rotate(-16.0 154.3 451.3)" /><ellipse class="m" stroke-width="2.0" cx="154.6" cy="451.6" rx="5.0" ry="8.2" transform="rotate(-16.0 154.6 451.6)" /><ellipse class="t" stroke-width="0.7" cx="155.6" cy="452.1" rx="3.1" ry="6.0" transform="rotate(-16.0 155.6 452.1)" />
<ellipse class="mw" stroke-width="2.0" cx="139.2" cy="364.6" rx="8.6" ry="11.8" transform="rotate(-14.0 139.2 364.6)" /><ellipse class="m" stroke-width="2.0" cx="139.5" cy="364.9" rx="5.6" ry="8.2" transform="rotate(-14.0 139.5 364.9)" /><ellipse class="t" stroke-width="0.7" cx="140.5" cy="365.4" rx="3.7" ry="6.0" transform="rotate(-14.0 140.5 365.4)" />
<ellipse class="t" stroke-width="0.9" cx="139.7" cy="365.1" rx="3.6" ry="5.6" transform="rotate(-14.0 139.7 365.1)" />
<ellipse class="mw" stroke-width="2.0" cx="154.2" cy="389.2" rx="8.2" ry="11.4" transform="rotate(-14.0 154.2 389.2)" /><ellipse class="m" stroke-width="2.0" cx="154.5" cy="389.5" rx="5.4" ry="8.0" transform="rotate(-14.0 154.5 389.5)" /><ellipse class="t" stroke-width="0.7" cx="155.5" cy="390.0" rx="3.5" ry="5.8" transform="rotate(-14.0 155.5 390.0)" />
<ellipse class="t" stroke-width="0.9" cx="154.7" cy="389.7" rx="3.4" ry="5.4" transform="rotate(-14.0 154.7 389.7)" />
<path class="m" stroke-width="1.1" d="M143.0,352.0 C144.0,352.2 147.0,351.8 149.0,353.0 C151.0,354.2 153.2,356.7 155.0,359.0 C156.8,361.3 158.2,364.3 159.5,367.0 C160.8,369.7 162.4,373.7 163.0,375.0"/>
<path class="m" stroke-width="1.1" d="M161.500,372 L166,370 M163,395 C166.500,394 169,391 170,388"/>
<path class="m" stroke-width="1.1" d="M131.0,356.0 C130.8,357.0 129.8,359.7 130.0,362.0 C130.2,364.3 131.0,367.2 132.0,370.0 C133.0,372.8 134.5,375.9 136.0,379.0 C137.5,382.1 139.3,385.6 141.0,388.5 C142.7,391.4 144.3,394.2 146.0,396.5 C147.7,398.8 149.2,400.7 151.0,402.0 C152.8,403.3 155.0,404.4 157.0,404.5 C159.0,404.6 162.0,402.8 163.0,402.5"/>
<path class="mw" stroke-width="2.2" d="M118.0,360.0 C116.5,360.3 114.5,362.0 113.0,363.5 C111.5,365.0 110.0,366.9 109.0,369.0 C108.0,371.1 107.2,373.5 107.0,376.0 C106.8,378.5 107.3,381.3 108.0,384.0 C108.7,386.7 109.7,389.2 111.0,392.0 C112.3,394.8 114.5,398.0 116.0,401.0 C117.5,404.0 118.7,407.2 120.0,410.0 C121.3,412.8 122.7,415.4 124.0,418.0 C125.3,420.6 126.6,423.2 128.0,425.5 C129.4,427.8 130.8,430.0 132.5,431.5 C134.2,433.0 136.2,434.3 138.0,434.5 C139.8,434.7 141.8,433.8 143.0,432.5 C144.2,431.2 145.2,429.2 145.5,427.0 C145.8,424.8 145.6,422.2 145.0,419.0 C144.4,415.8 143.2,411.6 142.0,408.0 C140.8,404.4 139.3,400.7 138.0,397.5 C136.7,394.3 135.3,391.8 134.0,389.0 C132.7,386.2 131.2,383.7 130.0,381.0 C128.8,378.3 127.9,375.4 127.0,373.0 C126.1,370.6 125.3,368.4 124.5,366.5 C123.7,364.6 123.1,362.6 122.0,361.5 C120.9,360.4 119.5,359.7 118.0,360.0 Z"/>
<path class="m" stroke-width="1" d="M119.0,363.5 C118.3,364.0 116.2,365.2 115.0,366.5 C113.8,367.8 112.8,369.6 112.0,371.5 C111.2,373.4 110.6,375.8 110.5,378.0 C110.4,380.2 110.8,382.5 111.5,385.0 C112.2,387.5 114.0,391.7 114.5,393.0"/>
<path class="m" stroke-width="1.4" d="M120.0,359.0 C120.7,358.7 122.7,356.9 124.0,357.0 C125.3,357.1 126.8,358.0 128.0,359.5 C129.2,361.0 130.2,363.4 131.5,366.0 C132.8,368.6 134.1,371.8 135.5,375.0 C136.9,378.2 138.6,381.8 140.0,385.0 C141.4,388.2 142.6,390.8 144.0,394.0 C145.4,397.2 147.0,400.7 148.5,404.0 C150.0,407.3 151.7,410.8 153.0,414.0 C154.3,417.2 155.6,420.3 156.5,423.0 C157.4,425.7 158.2,428.8 158.5,430.0"/>
<path class="m" stroke-width="1" d="M126.5,363.0 C127.0,364.0 128.3,366.5 129.5,369.0 C130.7,371.5 132.1,374.8 133.5,378.0 C134.9,381.2 136.6,384.8 138.0,388.0 C139.4,391.2 141.3,395.5 142.0,397.0"/>
<path class="m" stroke-width="1" d="M116.5,355.5 C117.2,355.0 119.1,353.0 120.5,352.5 C121.9,352.0 124.2,352.5 125.0,352.5"/>
<path class="mw" stroke-width="1.2" d="M117.500,404.500 L142,394.500 L143.500,398.500 L119.500,409 Z"/>
<path class="m" stroke-width="1.1" d="M142,394.500 L147.500,392 M143.500,398.500 L149.500,396"/>
<ellipse class="mw" stroke-width="1.8" cx="117.4" cy="387.2" rx="8.0" ry="9.4" transform="rotate(-20.0 117.4 387.2)" />
<path class="mw" stroke-width="1.3" d="M111.500,384 L114.500,380 L120,380 L123.500,384.500 L123,391.500 L119,394.500 L114,393.500 L111,389 Z"/>
<ellipse class="m" stroke-width="1.2" cx="117.4" cy="387.2" rx="3.6" ry="4.4" transform="rotate(-20.0 117.4 387.2)" />
<ellipse class="mw" stroke-width="2.2" cx="135.0" cy="418.5" rx="6.8" ry="11.0" transform="rotate(-16.0 135.0 418.5)" />
<ellipse class="m" stroke-width="2.0" cx="135.4" cy="418.8" rx="4.4" ry="8.0" transform="rotate(-16.0 135.4 418.8)" />
<ellipse class="t" stroke-width="0.7" cx="136.4" cy="419.6" rx="2.4" ry="5.6" transform="rotate(-16.0 136.4 419.6)" />
<path class="mw" stroke-width="1.8" d="M160.0,424.0 C159.8,422.3 159.8,419.9 160.5,418.5 C161.2,417.1 162.7,415.8 164.0,415.5 C165.3,415.2 167.4,415.6 168.5,416.5 C169.6,417.4 170.4,419.3 170.5,421.0 C170.6,422.7 169.8,425.1 169.0,426.5 C168.2,427.9 166.7,429.2 165.5,429.5 C164.3,429.8 162.9,429.4 162.0,428.5 C161.1,427.6 160.2,425.7 160.0,424.0 Z"/>
<ellipse class="mw" stroke-width="1.6" cx="167.2" cy="421.5" rx="2.4" ry="4.2" transform="rotate(-10.0 167.2 421.5)" />
<path class="mw" stroke-width="1.7" d="M168,417.500 L173.500,415.500 L175.500,422.500 L169.500,425"/>
<path class="m" stroke-width="1.1" d="M158.500,430 C159.500,436 161,440 163,442 M160,442 C158,439 157,436 156.500,432"/>
</g>
<line class="ld" x1="267.0" y1="448.6" x2="312.0" y2="424.8" stroke-width="1.1"/>
<circle class="ow" cx="253.0" cy="457" r="15"/>
<g transform="translate(253.5,463.4) scale(1.18,1)"><text class="lbl" text-anchor="middle">7</text></g>
<!-- ================= PARTS 1,2,3 ================= -->
<g id="p2">
<ellipse class="ow" stroke-width="2.2" cx="448.6" cy="305.2" rx="36.0" ry="21.6" transform="rotate(-2.0 448.6 305.2)" />
<ellipse class="mw" stroke-width="2.2" cx="448.1" cy="305.0" rx="24.5" ry="13.0" transform="rotate(-2.0 448.1 305.0)" />
<path class="m" stroke-width="1.8" d="M425.500,309 C427,303 436,299 448.500,298.500 C461,298.500 470.500,302 472,307"/>
<path class="m" stroke-width="1.6" d="M435,294.800 L435,299.500 M453,293.800 L453,298.500"/><path class="m" stroke-width="1" d="M435,295.500 L453,294.500"/>
<path class="m" stroke-width="1" d="M416,307.400 L420.600,305.400 L420.600,309.600 Z"/>
<path class="m" stroke-width="1" d="M470.500,303 L472.500,306.500"/>
</g>
<g id="p1">
<path class="ow" stroke-width="2.1" d="M466.0,360.5 C466.7,360.0 467.0,359.8 470.0,357.6 C473.0,355.4 479.6,350.1 483.8,347.5 C488.0,344.9 491.5,343.0 495.1,341.9 C498.7,340.8 502.1,340.5 505.2,340.6 C508.3,340.7 511.0,341.4 513.9,342.5 C516.8,343.6 520.0,345.0 522.7,346.9 C525.4,348.8 528.1,351.2 530.2,353.8 C532.3,356.4 533.8,359.2 535.3,362.6 C536.8,366.0 537.8,370.1 539.0,373.9 C540.2,377.7 541.6,381.5 542.8,385.2 C543.9,388.9 545.4,394.1 545.9,395.9 L545.9,395.9 C545.7,396.6 545.6,399.0 544.7,400.2 C543.8,401.4 541.7,402.3 540.3,402.8 C538.9,403.3 537.9,403.6 536.5,403.4 C535.1,403.2 533.2,402.6 532.1,401.5 C531.0,400.4 530.0,397.8 529.6,397.1 L529.6,397.1 C529.2,395.3 527.9,389.8 527.1,386.4 C526.3,382.9 525.5,379.7 524.6,376.4 C523.7,373.1 522.6,369.3 521.5,366.4 C520.4,363.5 519.4,360.9 517.7,358.8 C516.0,356.7 513.9,354.3 511.4,353.8 C508.9,353.3 505.5,354.6 502.6,355.7 C499.7,356.8 496.8,359.0 493.9,360.7 C491.0,362.4 487.8,364.3 485.1,365.7 C482.5,367.1 479.2,368.4 478.0,369.0 Z"/>
<path class="ow" stroke-width="2" d="M521.5,370.5 C519.8,370.8 514.3,371.2 511.4,372.0 C508.5,372.8 505.8,373.6 503.9,375.2 C502.0,376.8 500.3,379.3 500.1,381.4 C499.9,383.5 501.1,386.0 502.6,387.7 C504.1,389.4 506.4,390.8 508.9,391.5 C511.4,392.2 514.8,392.1 517.7,392.1 C520.6,392.1 525.0,391.4 526.5,391.3 L527,391 L523,374 Z"/>
<path class="m" stroke-width="1.6" d="M511.4,353.8 C512.2,354.6 514.6,356.6 516.0,358.5 C517.4,360.4 518.5,363.1 519.5,365.5 C520.5,367.9 521.2,370.4 522.0,373.0 C522.8,375.6 523.3,378.3 524.0,381.0 C524.7,383.7 525.4,386.7 526.0,389.0 C526.6,391.3 527.2,394.0 527.5,395.0"/>
<path class="m" stroke-width="1" d="M519,361.500 L521,359.500 M522,374 C525,377.500 528,378.500 531,378"/>
<ellipse class="m" stroke-width="2.2" cx="515.8" cy="383.1" rx="4.5" ry="2.7" transform="rotate(0.0 515.8 383.1)" fill="#555"/>
<ellipse class="m" stroke-width="0.4" cx="516.0" cy="383.5" rx="1.8" ry="0.8" transform="rotate(0.0 516.0 383.5)" fill="#ddd"/>
<ellipse class="ow" stroke-width="2.1" cx="447.4" cy="378.3" rx="41.2" ry="23.7" transform="rotate(-0.5 447.4 378.3)" />
<path class="ow" stroke-width="2" d="M430.7,357.5 C424.5,358.2 427.6,359.6 426.5,361.0 C425.4,362.4 424.6,364.3 424.0,366.0 C423.4,367.7 423.3,369.6 423.2,371.4 C423.1,373.2 422.7,375.1 423.6,377.0 C424.6,378.9 426.1,381.1 428.9,382.9 C431.7,384.7 436.6,386.8 440.2,387.9 C443.8,389.0 446.9,389.7 450.2,389.8 C453.5,389.9 457.1,389.6 460.2,388.5 C463.3,387.4 467.0,385.5 469.0,383.5 C471.0,381.5 471.7,378.8 472.1,376.4 C472.6,374.0 472.3,371.3 471.7,368.9 C471.1,366.5 469.8,364.0 468.4,362.0 C467.0,360.0 469.9,357.8 463.6,357.0 C457.3,356.2 436.9,356.8 430.7,357.5 Z"/>
<path class="m" stroke-width="1.7" d="M423.6,370.5 C424.1,371.0 425.0,372.4 426.5,373.5 C428.0,374.6 430.1,375.8 432.6,376.8 C435.1,377.8 438.5,378.7 441.4,379.3 C444.3,379.9 447.3,380.4 450.2,380.4 C453.1,380.4 456.2,380.0 459.0,379.2 C461.8,378.4 464.8,377.1 467.0,375.6 C469.2,374.1 471.2,371.2 472.0,370.3"/>
<path class="m" stroke-width="1.5" d="M425.0,377.5 C425.8,378.1 427.4,379.7 430.0,381.0 C432.6,382.3 437.1,384.3 440.5,385.3 C443.9,386.3 447.0,386.8 450.2,386.8 C453.4,386.9 456.9,386.5 459.8,385.6 C462.7,384.7 465.6,382.9 467.5,381.4 C469.4,379.9 470.4,377.3 471.0,376.5"/>
<path class="m" stroke-width="1.8" d="M428.500,375.800 L428.700,380.500 M432.500,377.600 L432.700,383 M436.800,379 L437,385 M441,380 L441.200,386.300 M444.700,380.600 L444.700,384.500 L441.200,384 M458.500,379.800 L458.500,385.500 M462,378.600 L462,384.600 M465.500,377 L465.500,382.500 M468.800,374.500 L468.800,379.500 M458.500,383 L462,382"/>
<path class="mw" stroke-width="1.5" d="M449,380.500 L453.500,380.300 L453.500,389.500 L449.300,389.800 Z"/>
<path class="m" stroke-width="1.3" d="M444.700,381.500 L449,382 M444.700,384.500 L444.700,388.500"/>
<path class="ow" stroke-width="1.2" d="M430.700,357 L430.700,361 C433,366.500 439,369.500 447,369.800 C455,369.800 461,366.500 463.600,361 L463.600,357 Z"/>
<ellipse class="ow" stroke-width="2.1" cx="447.1" cy="357.3" rx="16.4" ry="10.4" transform="rotate(0.0 447.1 357.3)" />
<ellipse class="mw" stroke-width="1.8" cx="447.3" cy="362.0" rx="11.2" ry="4.0" transform="rotate(0.0 447.3 362.0)" />
<path class="m" stroke-width="1.2" d="M433.5,362.5 C434.1,363.1 435.6,365.1 437.0,366.0 C438.4,366.9 440.2,367.6 442.0,368.0 C443.8,368.4 445.7,368.6 447.5,368.6 C449.3,368.6 451.2,368.4 453.0,368.0 C454.8,367.6 456.7,366.9 458.0,366.0 C459.3,365.1 460.5,363.1 461.0,362.5"/>
</g>
<g id="p3">
<ellipse class="ow" stroke-width="2.3" cx="518.4" cy="424.6" rx="14.0" ry="9.0" transform="rotate(-1.0 518.4 424.6)" />
<path class="ow" stroke-width="2" d="M513.800,424.500 C515,422.800 522,422.800 523.400,424.300 L523.400,433.500 C523.400,436 521.500,437.500 518.700,437.500 C516,437.500 513.800,436 513.800,433.500 Z"/>
<path class="m" stroke-width="1.2" d="M519.400,423.500 L519.400,432.500 M513.800,432.500 C515.500,431 521.500,431 523.400,432.500"/>
</g>
<!-- ================= PART 10 : pipe ================= -->
<g id="p10">
<path class="ow" stroke-width="2" d="M646.6,371.6 C647.6,370.4 648.9,368.7 650.8,367.9 C652.7,367.1 655.5,366.6 658.0,366.9 C660.5,367.2 663.6,368.3 666.0,369.6 C668.4,370.9 671.0,373.0 672.6,374.8 C674.2,376.6 675.5,378.7 675.9,380.5 C676.3,382.3 676.1,384.3 675.2,385.8 C674.3,387.3 672.2,388.6 670.6,389.4 C669.0,390.2 666.7,389.8 665.6,390.6 C664.5,391.5 664.0,391.9 663.9,394.5 C663.8,397.1 664.5,401.9 665.3,405.9 C666.1,409.9 667.4,414.4 668.5,418.7 C669.6,422.9 671.0,427.9 671.7,431.4 C672.4,434.9 672.9,437.1 672.7,439.9 C672.5,442.7 671.8,446.1 670.6,448.4 C669.4,450.7 667.2,451.9 665.3,453.7 C663.4,455.5 661.5,457.1 659.0,459.0 C656.5,460.9 653.0,463.7 650.5,465.3 C648.0,466.9 645.9,468.2 644.1,468.5 C642.3,468.8 640.9,468.1 639.9,467.0 C638.9,465.9 638.1,464.2 638.2,462.2 C638.3,460.1 639.1,457.4 640.3,454.7 C641.5,452.0 643.3,448.7 645.2,446.2 C647.1,443.7 650.3,441.6 651.5,439.9 C652.7,438.2 652.8,438.1 652.4,436.0 C652.0,433.9 650.4,430.7 649.4,427.1 C648.4,423.5 647.2,418.6 646.2,414.4 C645.2,410.2 643.9,405.6 643.2,401.7 C642.5,397.8 641.9,394.5 641.8,391.1 C641.7,387.7 642.1,384.1 642.6,381.5 C643.1,378.9 643.9,376.9 644.6,375.3 C645.3,373.7 645.6,372.8 646.6,371.6 Z"/>
<path class="m" stroke-width="1.8" d="M646.5,373.5 C647.2,373.2 648.9,371.8 651.0,371.5 C653.1,371.2 656.4,371.1 659.0,371.8 C661.6,372.5 664.5,374.0 666.5,375.5 C668.5,377.0 670.1,379.2 670.8,381.0 C671.5,382.8 671.0,385.0 670.5,386.5 C670.0,388.0 668.0,389.2 667.5,389.8"/>
<path class="m" stroke-width="1.3" d="M649.0,369.3 C650.2,369.3 653.4,368.8 656.0,369.2 C658.6,369.6 662.0,370.6 664.5,372.0 C667.0,373.4 669.5,375.8 671.0,377.5 C672.5,379.2 673.1,380.8 673.3,382.5 C673.5,384.2 672.2,386.7 672.0,387.5"/>
<path class="m" stroke-width="1.6" d="M648.600,441.400 L660,445.800 L655.700,460.800"/>
<path class="m" stroke-width="1.3" d="M653.900,438.300 C656,437.300 659,437.800 661.500,440.300 L664.500,444 L661,456.500"/>
<path class="m" stroke-width="1.3" d="M660,445.800 L664.500,444"/>
<path class="m" stroke-width="1" d="M657.800,453 L662.300,450"/>
</g>

<!-- ================= LABELS ================= -->
<g id="labels">
  <g transform="translate(108.6,80.2) scale(1.16,1)"><text class="lbl" text-anchor="middle" letter-spacing="1.6">11</text></g>
  <g transform="translate(245.2,80.2) scale(1.18,1)"><text class="lbl" text-anchor="middle">9</text></g>
  <g transform="translate(658.2,80.2) scale(1.18,1)"><text class="lbl" text-anchor="middle">6</text></g>
  <g transform="translate(100.8,276.2) scale(1.18,1)"><text class="lbl" text-anchor="middle">4</text></g>
  <g transform="translate(245.2,276.2) scale(1.18,1)"><text class="lbl" text-anchor="middle">5</text></g>
  <g transform="translate(520,311.6) scale(1.18,1)"><text class="lbl" text-anchor="middle">2</text></g>
  <g transform="translate(657.2,345) scale(1.16,1)"><text class="lbl" text-anchor="middle" letter-spacing="0">10</text></g>
  <g transform="translate(450,430) scale(1.18,1)"><text class="lbl" text-anchor="middle">1</text></g>
  <g transform="translate(481,431.4) scale(1.18,1)"><text class="lbl" text-anchor="middle">3</text></g>
  <!-- trim foot serifs of digit 1 -->
  <g fill="#fff">
    <rect x="96" y="77.6" width="4.9" height="3"/><rect x="103.7" y="77.6" width="8.7" height="3"/><rect x="115.2" y="77.6" width="4.5" height="3"/>
    <rect x="444" y="427.6" width="4.9" height="3"/><rect x="452.1" y="427.6" width="4.5" height="3"/>
    <rect x="646" y="342.6" width="4.9" height="3"/><rect x="653.7" y="342.6" width="3.8" height="3"/>
  </g>
</g>

<!-- ================= LEADERS ================= -->
<g id="leaders">
  <line class="ld" x1="107.7" y1="87" x2="107.7" y2="104"/>
  <line class="ld" x1="245.1" y1="85.5" x2="245.1" y2="104"/>
  <line class="ld" x1="658.3" y1="82.5" x2="658.3" y2="102.5"/>
  <line class="ld" x1="100.7" y1="280.5" x2="100.7" y2="312"/>
  <line class="ld" x1="245.5" y1="280.5" x2="245.5" y2="312"/>
  <line class="ld" x1="488" y1="305" x2="512" y2="305"/>
  <line class="ld" x1="658.6" y1="347.5" x2="658.6" y2="365.5"/>
  <line class="ld" x1="450" y1="402.5" x2="450" y2="416"/>
  <line class="ld" x1="490" y1="425" x2="505" y2="425"/>
  <line class="ld" x1="516.4" y1="384" x2="517.4" y2="413" stroke-width="1.2"/>
</g>

<!-- ================= CALLOUT CIRCLES ================= -->
<g id="callouts">
  <line class="ld" x1="416" y1="89" x2="436" y2="155" stroke-width="1.1"/>
  <circle class="ow" cx="412.5" cy="75" r="15"/>
  <g transform="translate(412.5,81.2) scale(1.18,1)"><text class="lbl" text-anchor="middle">8</text></g>
</g>

<!-- ================= BOX ================= -->
<g id="box">
  <rect x="723.6" y="446.6" width="64" height="91.6" fill="#fff" stroke="#222" stroke-width="1.6"/>
  <line x1="723.6" y1="492.5" x2="787.6" y2="492.5" stroke="#222" stroke-width="1.6"/>
  <g transform="translate(734.6,463.8) scale(1.18,1)"><text class="lbl" text-anchor="middle">7</text></g>
  <g transform="translate(733.8,488.2) scale(1.18,1)"><text class="lbl" text-anchor="middle">8</text></g>
  <text x="755.9" y="551" text-anchor="middle" font-family="Liberation Sans, sans-serif" font-weight="bold" font-size="12.2" fill="#111">00207616</text>
</g>


<!-- ================= BOX CONTENT : nut + arrow ================= -->
<g id="boxart">
<ellipse class="ow" stroke-width="1.9" cx="763.6" cy="478.6" rx="22.0" ry="10.8" transform="rotate(0.0 763.6 478.6)" />
<ellipse class="ow" stroke-width="1.9" cx="763.6" cy="476.6" rx="22.0" ry="10.8" transform="rotate(0.0 763.6 476.6)" />
<path class="ow" stroke-width="2" d="M747.700,463.700 L753.800,453.500 C759,451 769,451 774.400,453.300 L780.500,463 L780,474.300 C776,478 773,479 772,479.300 L756.300,479.300 C753,478.500 750,476.500 748.200,474.300 Z"/>
<path class="m" stroke-width="1.5" d="M747.700,463.700 C750,466 753,467.300 756.300,467.700 L771.400,467.700 C775,467.300 778.500,465.500 780.500,463 M756.300,467.700 L756.300,479.300 M771.400,467.700 L772,479.300"/>
<ellipse class="mw" stroke-width="2.2" cx="764.4" cy="460.2" rx="8.4" ry="4.7" transform="rotate(0.0 764.4 460.2)" />
<ellipse class="m" stroke-width="1.2" cx="764.6" cy="460.8" rx="5.6" ry="2.7" transform="rotate(0.0 764.6 460.8)" />
<path d="M727.300,527.200 L764.200,527.200 L764.200,533.600 L727.300,533.600 Z" fill="#111"/>
<path d="M784,506.400 L784.600,511 L762.500,525.300 L755,523 Z" fill="#111"/>
<path class="ow" stroke-width="1.500" stroke-linejoin="miter" d="M727.300,507.600 L736.300,512.200 L766.600,496.700 L784,506.400 L755,523 L760.500,527.200 L727.300,527.200 Z"/>
</g>
</svg>
</body>
</html>
